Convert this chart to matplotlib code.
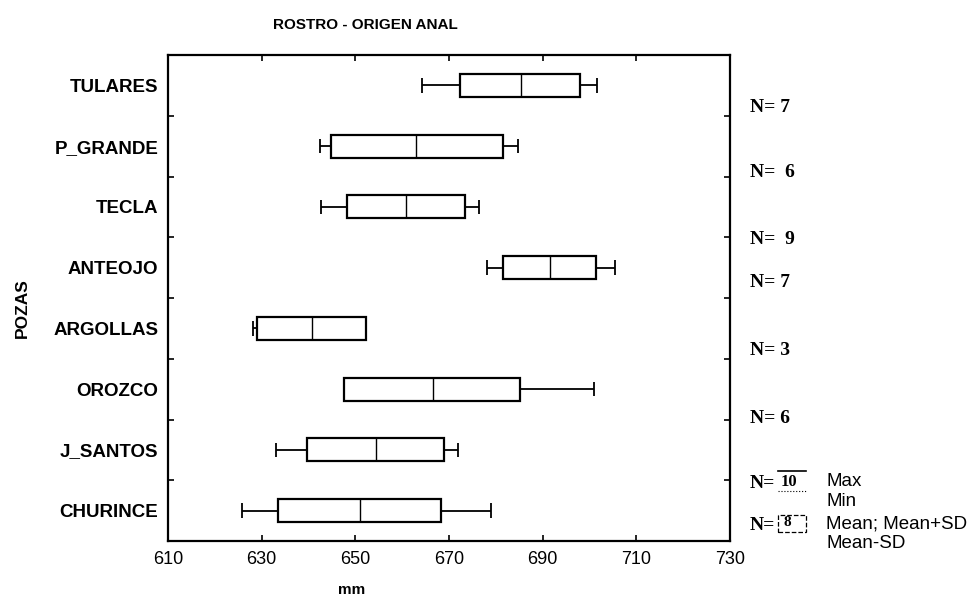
import matplotlib.pyplot as plt
from matplotlib.patches import Rectangle
from matplotlib.lines import Line2D
import matplotlib.transforms as mtransforms

# datos por poza (de arriba hacia abajo)
pozas = ['TULARES', 'P_GRANDE', 'TECLA', 'ANTEOJO', 'ARGOLLAS', 'OROZCO', 'J_SANTOS', 'CHURINCE']
minimo = [664.2, 642.5, 642.7, 678.1, 628.2, 647.6, 633.0, 625.8]
media_menos_sd = [672.3, 644.7, 648.3, 681.6, 629.1, 647.6, 639.7, 633.4]
media = [685.4, 663.0, 660.8, 691.6, 640.7, 666.6, 654.4, 651.0]
media_mas_sd = [697.9, 681.6, 673.5, 701.4, 652.3, 685.2, 668.9, 668.3]
maximo = [701.7, 684.8, 676.4, 705.5, 652.3, 700.9, 672.0, 679.0]
n_labels = ['N= 7', 'N=  6', 'N=  9', 'N= 7', 'N= 3', 'N= 6', 'N=', 'N=']
n_pos = [0.36, 1.43, 2.53, 3.24, 4.36, 5.48, 6.55, 7.24]
x_ticks = [610, 630, 650, 670, 690, 710, 730]

plt.rcParams['font.family'] = ['Liberation Sans', 'DejaVu Sans']

fig = plt.figure(figsize=(9.75, 6.02), dpi=100)
ax = fig.add_axes([168/975, 1 - 541/602, 562/975, 486/602])

h_box = 0.38
h_cap = 0.24
for i in range(len(pozas)):
    lo, hi = media_menos_sd[i], media_mas_sd[i]
    ax.add_patch(Rectangle((lo, i - h_box/2), hi - lo, h_box, fill=False,
                           edgecolor='black', linewidth=1.6))
    ax.vlines(media[i], i - h_box/2, i + h_box/2, color='black', linewidth=1.0)
    # bigotes
    if minimo[i] < lo - 0.3:
        ax.hlines(i, minimo[i], lo, color='black', linewidth=1.3)
        ax.vlines(minimo[i], i - h_cap/2, i + h_cap/2, color='black', linewidth=1.3)
    if maximo[i] > hi + 0.3:
        ax.hlines(i, hi, maximo[i], color='black', linewidth=1.3)
        ax.vlines(maximo[i], i - h_cap/2, i + h_cap/2, color='black', linewidth=1.3)

ax.set_xlim(610, 730)
ax.set_ylim(7.5, -0.5)
ax.set_xticks(x_ticks)
ax.set_xticklabels([str(t) for t in x_ticks], fontsize=13)
ax.set_yticks(range(len(pozas)))
ax.set_yticklabels(pozas, fontsize=13.5, fontweight='bold')
ax.set_yticks([i + 0.5 for i in range(len(pozas) - 1)], minor=True)
ax.tick_params(axis='x', direction='in', top=True, length=4, width=1.2, pad=7)
ax.tick_params(axis='y', which='major', length=0, pad=7)
ax.tick_params(axis='y', which='minor', direction='in', right=True, length=4, width=1.2)
for s in ax.spines.values():
    s.set_linewidth(1.6)

# N de cada poza
trans = mtransforms.blended_transform_factory(ax.transAxes, ax.transData)
for lab, y in zip(n_labels, n_pos):
    ax.text(1.035, y, lab, transform=trans, ha='left', va='center', fontsize=14,
            fontweight='bold', family='Liberation Serif', clip_on=False)

# titulos
fig.text(365/975, 1 - 25/602, 'ROSTRO - ORIGEN ANAL', ha='center', va='center',
         fontsize=11, fontweight='bold')
fig.text(352/975, 1 - 590/602, 'mm', ha='center', va='center', fontsize=11, fontweight='bold')
fig.text(22/975, 1 - 308/602, 'POZAS', ha='center', va='center', rotation=90,
         fontsize=12.5, fontweight='bold')

# leyenda
def fx(x):
    return x / 975

def fy(y):
    return 1 - y / 602

fig.add_artist(Line2D([fx(778), fx(806)], [fy(471), fy(471)], color='black', lw=1.2))
fig.text(fx(781), fy(482), '10', ha='left', va='center', fontsize=12, fontweight='bold',
         family='Liberation Serif')
fig.add_artist(Line2D([fx(778), fx(806)], [fy(491), fy(491)], color='black', lw=0.8, ls=':'))
fig.add_artist(Rectangle((fx(778), fy(532)), fx(28), 17/602, fill=False, edgecolor='black',
                         lw=0.9, ls='--', transform=fig.transFigure))
fig.text(fx(784), fy(522), '8', ha='left', va='center', fontsize=11, fontweight='bold',
         family='Liberation Serif')
for txt, y in [('Max', 481), ('Min', 501), ('Mean; Mean+SD', 524), ('Mean-SD', 544)]:
    fig.text(fx(826), fy(y), txt, ha='left', va='center', fontsize=13.5)

fig.savefig('out.png', dpi=100)
